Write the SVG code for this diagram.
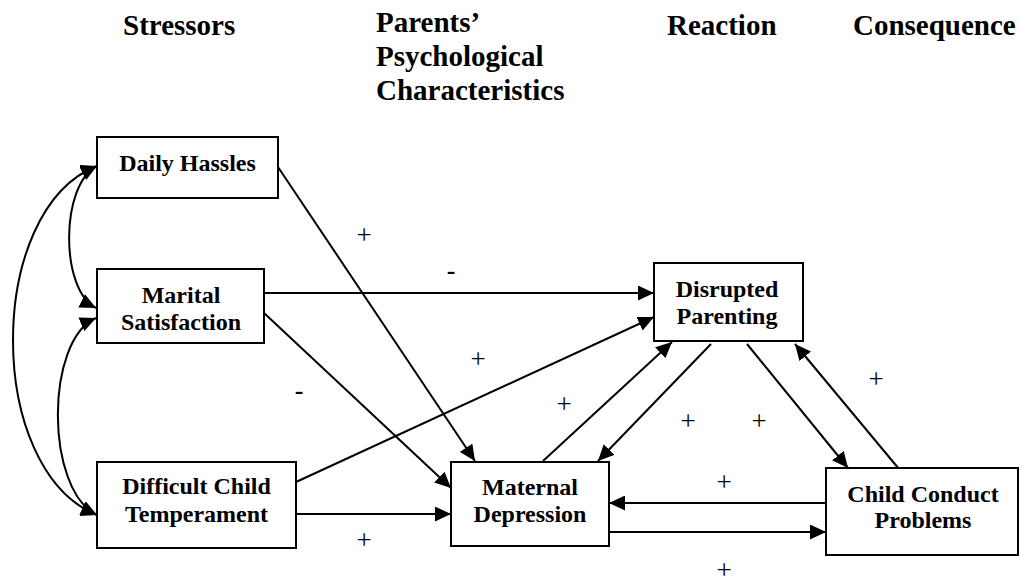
<svg xmlns="http://www.w3.org/2000/svg" width="1020" height="583" viewBox="0 0 1020 583">
<style>
  .box { fill: #ffffff; stroke: #000000; stroke-width: 2; }
  .lbl { font-family: "Liberation Serif", "Times New Roman", serif; font-weight: bold; font-size: 24px; fill: #000; text-anchor: middle; }
  .hdr { font-family: "Liberation Serif", "Times New Roman", serif; font-weight: bold; font-size: 29px; fill: #000; }
  .sign { font-family: "Liberation Serif", "Times New Roman", serif; font-size: 27px; fill: #000; text-anchor: middle; }
  .neg { font-family: "Liberation Serif", "Times New Roman", serif; font-weight: bold; font-size: 26px; fill: #000; text-anchor: middle; }
  .edge { fill: none; stroke: #000; stroke-width: 2; }
</style>
<defs>
  <marker id="ah" viewBox="0 0 16 15" refX="16" refY="7.5" markerWidth="16" markerHeight="15" markerUnits="userSpaceOnUse" orient="auto-start-reverse">
    <path d="M0,0 L16,7.5 L0,15 z" fill="#000"/>
  </marker>
</defs>
<rect width="1020" height="583" fill="#ffffff"/>

<g id="headers">
  <text class="hdr" x="123" y="35">Stressors</text>
  <text class="hdr" x="376" y="32">Parents’</text>
  <text class="hdr" x="376" y="66">Psychological</text>
  <text class="hdr" x="376" y="100">Characteristics</text>
  <text class="hdr" x="667" y="35">Reaction</text>
  <text class="hdr" x="853" y="35">Consequence</text>
</g>

<g id="connectors">
  <path class="edge" d="M97,166 C60,185 60,290 96,308" marker-start="url(#ah)" marker-end="url(#ah)"/>
  <path class="edge" d="M96,318 C45,340 45,490 97,515" marker-start="url(#ah)" marker-end="url(#ah)"/>
  <path class="edge" d="M97,166 C-15,210 -15,470 97,515" marker-start="url(#ah)" marker-end="url(#ah)"/>
  <line class="edge" x1="278" y1="167" x2="475" y2="461" marker-end="url(#ah)"/>
  <line class="edge" x1="264" y1="293" x2="654" y2="293" marker-end="url(#ah)"/>
  <line class="edge" x1="264" y1="313" x2="451" y2="488" marker-end="url(#ah)"/>
  <line class="edge" x1="296" y1="482" x2="654" y2="317" marker-end="url(#ah)"/>
  <line class="edge" x1="296" y1="514" x2="451" y2="514" marker-end="url(#ah)"/>
  <line class="edge" x1="543" y1="461" x2="672" y2="342" marker-end="url(#ah)"/>
  <line class="edge" x1="711" y1="344" x2="598" y2="461" marker-end="url(#ah)"/>
  <line class="edge" x1="747" y1="344" x2="848" y2="468" marker-end="url(#ah)"/>
  <line class="edge" x1="899" y1="469" x2="795" y2="344" marker-end="url(#ah)"/>
  <line class="edge" x1="826" y1="503" x2="609" y2="503" marker-end="url(#ah)"/>
  <line class="edge" x1="609" y1="532" x2="826" y2="532" marker-end="url(#ah)"/>
</g>

<g id="node-daily-hassles">
  <rect class="box" x="97" y="137" width="181" height="61"/>
  <text class="lbl" x="187.5" y="171">Daily Hassles</text>
</g>
<g id="node-marital-satisfaction">
  <rect class="box" x="97" y="269" width="167" height="74"/>
  <text class="lbl" x="181" y="303">Marital</text>
  <text class="lbl" x="181" y="330">Satisfaction</text>
</g>
<g id="node-difficult-child-temperament">
  <rect class="box" x="97" y="462" width="199" height="86"/>
  <text class="lbl" x="196.5" y="494">Difficult Child</text>
  <text class="lbl" x="196.5" y="522">Temperament</text>
</g>
<g id="node-maternal-depression">
  <rect class="box" x="451" y="462" width="158" height="84"/>
  <text class="lbl" x="530" y="495">Maternal</text>
  <text class="lbl" x="530" y="522">Depression</text>
</g>
<g id="node-disrupted-parenting">
  <rect class="box" x="654" y="263" width="149" height="78"/>
  <text class="lbl" x="727" y="297">Disrupted</text>
  <text class="lbl" x="727" y="324">Parenting</text>
</g>
<g id="node-child-conduct-problems">
  <rect class="box" x="826" y="468" width="192" height="87"/>
  <text class="lbl" x="923" y="502">Child Conduct</text>
  <text class="lbl" x="923" y="528">Problems</text>
</g>

<g id="signs">
  <text class="sign" x="364" y="244">+</text>
  <text class="neg" x="451" y="279">-</text>
  <text class="sign" x="478" y="368">+</text>
  <text class="neg" x="299" y="399">-</text>
  <text class="sign" x="564" y="413">+</text>
  <text class="sign" x="364" y="549">+</text>
  <text class="sign" x="688" y="430">+</text>
  <text class="sign" x="759" y="430">+</text>
  <text class="sign" x="876" y="388">+</text>
  <text class="sign" x="724" y="491">+</text>
  <text class="sign" x="724" y="579">+</text>
</g>
</svg>
